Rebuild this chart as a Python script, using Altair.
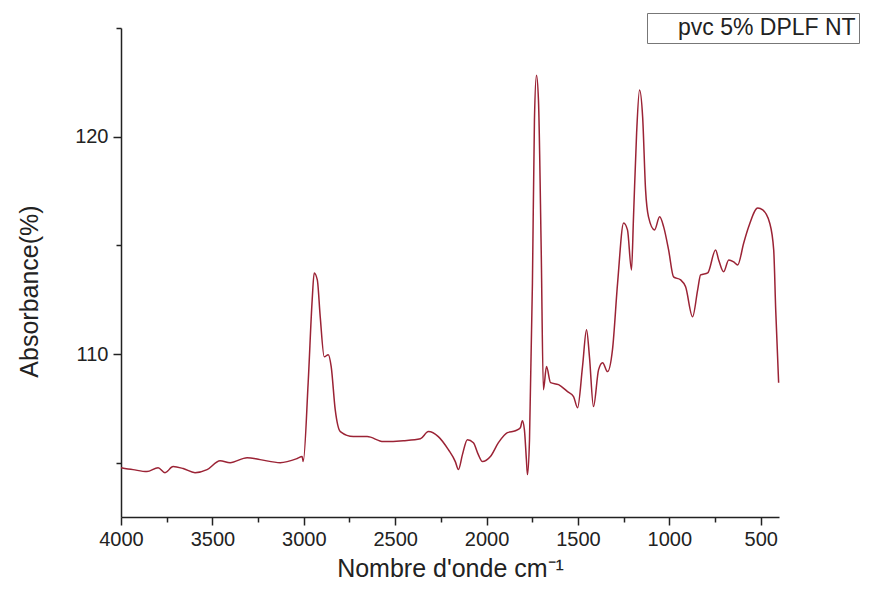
import altair as alt
import pandas as pd

# FTIR spectrum
wavenumber = [4000, 3934, 3858, 3797, 3759, 3715, 3660, 3595, 3529, 3458,
              3403, 3310, 3239, 3129, 3036, 3009, 3003, 2976, 2954, 2943,
              2926, 2910, 2888, 2866, 2850, 2828, 2800, 2729, 2653, 2565,
              2455, 2362, 2318, 2264, 2209, 2171, 2154, 2132, 2105, 2072,
              2045, 2023, 1979, 1935, 1886, 1842, 1815, 1804, 1793, 1782,
              1776, 1765, 1749, 1738, 1727, 1716, 1701, 1689, 1672, 1650,
              1606, 1557, 1524, 1502, 1475, 1453, 1437, 1415, 1387, 1365,
              1338, 1311, 1283, 1250, 1229, 1207, 1196, 1179, 1163, 1146,
              1130, 1114, 1081, 1053, 1031, 1004, 977, 938, 911, 873,
              845, 829, 790, 747, 730, 703, 675, 648, 626, 593,
              566, 516, 489, 451, 429, 418, 402]
absorbance = [104.77, 104.68, 104.59, 104.77, 104.54, 104.82, 104.73, 104.54, 104.68, 105.09,
              105.00, 105.23, 105.14, 105.00, 105.19, 105.28, 105.05, 108.68, 112.49, 113.73,
              113.41, 111.71, 109.87, 109.97, 109.42, 107.44, 106.43, 106.20, 106.20, 105.97,
              106.01, 106.10, 106.43, 106.20, 105.60, 105.05, 104.68, 105.37, 106.06, 105.92,
              105.37, 105.05, 105.28, 105.92, 106.38, 106.47, 106.61, 106.93, 106.52, 105.14,
              104.45, 106.06, 113.27, 120.77, 122.83, 121.68, 114.79, 108.36, 109.42, 108.68,
              108.59, 108.27, 108.04, 107.53, 109.42, 111.12, 109.87, 107.58, 109.28, 109.60,
              109.19, 110.20, 113.27, 116.03, 115.71, 113.87, 116.31, 120.17, 122.15, 120.90,
              117.55, 116.31, 115.71, 116.31, 115.85, 114.79, 113.55, 113.41, 113.09, 111.71,
              112.95, 113.64, 113.73, 114.79, 114.33, 113.78, 114.33, 114.24, 114.10, 115.11,
              115.85, 116.72, 116.63, 116.03, 114.79, 112.03, 108.68]
series_name = "pvc 5% DPLF NT"

x_major = [4000, 3500, 3000, 2500, 2000, 1500, 1000, 500]
x_minor = [3750, 3250, 2750, 2250, 1750, 1250, 750]
y_major = [110, 120]
y_minor = [105, 115, 125]

df = pd.DataFrame({"wavenumber": wavenumber, "absorbance": absorbance,
                   "series": series_name})

FONT = "Liberation Sans"
AX = "#222222"

xscale = alt.Scale(domain=[400, 4000], reverse=True, nice=False, zero=False)
yscale = alt.Scale(domain=[102.5, 125], nice=False, zero=False)

line = alt.Chart(df).mark_line(strokeWidth=1.5, interpolate="monotone").encode(
    x=alt.X("wavenumber:Q", scale=xscale,
            axis=alt.Axis(orient="bottom", values=x_major, format="d",
                          title="Nombre d'onde cm⁻¹",
                          grid=False, tickSize=8, tickWidth=1.5, tickColor=AX,
                          domainColor=AX, domainWidth=1.5, labelFont=FONT,
                          labelFontSize=20, labelColor=AX, labelPadding=4,
                          titleFont=FONT, titleFontSize=25, titleFontWeight="normal",
                          titleColor=AX, titlePadding=7, labelFlush=False)),
    y=alt.Y("absorbance:Q", scale=yscale,
            axis=alt.Axis(orient="left", values=y_major, format="d",
                          title="Absorbance(%)",
                          grid=False, tickSize=8, tickWidth=1.5, tickColor=AX,
                          domainColor=AX, domainWidth=1.5, labelFont=FONT,
                          labelFontSize=20, labelColor=AX, labelPadding=5,
                          titleFont=FONT, titleFontSize=25, titleFontWeight="normal",
                          titleColor=AX, titlePadding=32, titleY=263)),
    color=alt.Color("series:N", scale=alt.Scale(range=["#9b2335"]),
                    legend=alt.Legend(title=None, orient="none", legendX=526, legendY=-15,
                                      strokeColor="#777777", padding=3,
                                      symbolType="stroke", symbolSize=400,
                                      symbolOpacity=0, labelOffset=5,
                                      labelFont=FONT, labelFontSize=23,
                                      labelColor=AX, labelLimit=400)),
)

minor = alt.Chart(df).mark_point(opacity=0).encode(
    x=alt.X("wavenumber:Q", scale=xscale,
            axis=alt.Axis(orient="bottom", values=x_minor, labels=False, title=None,
                          grid=False, domain=False, tickSize=5, tickWidth=1.5,
                          tickColor=AX)),
    y=alt.Y("absorbance:Q", scale=yscale,
            axis=alt.Axis(orient="left", values=y_minor, labels=False, title=None,
                          grid=False, domain=False, tickSize=5, tickWidth=1.5,
                          tickColor=AX)),
)

chart = alt.layer(line, minor).resolve_axis(x="independent", y="independent").properties(
    width=658, height=489,
    background="white",
    autosize=alt.AutoSizeParams(type="none"),
    padding={"left": 113, "top": 20, "right": 84, "bottom": 68},
).configure_view(stroke="transparent").configure_axis(grid=False)

chart.save("out.html", embed_options={"renderer": "svg", "actions": False})
